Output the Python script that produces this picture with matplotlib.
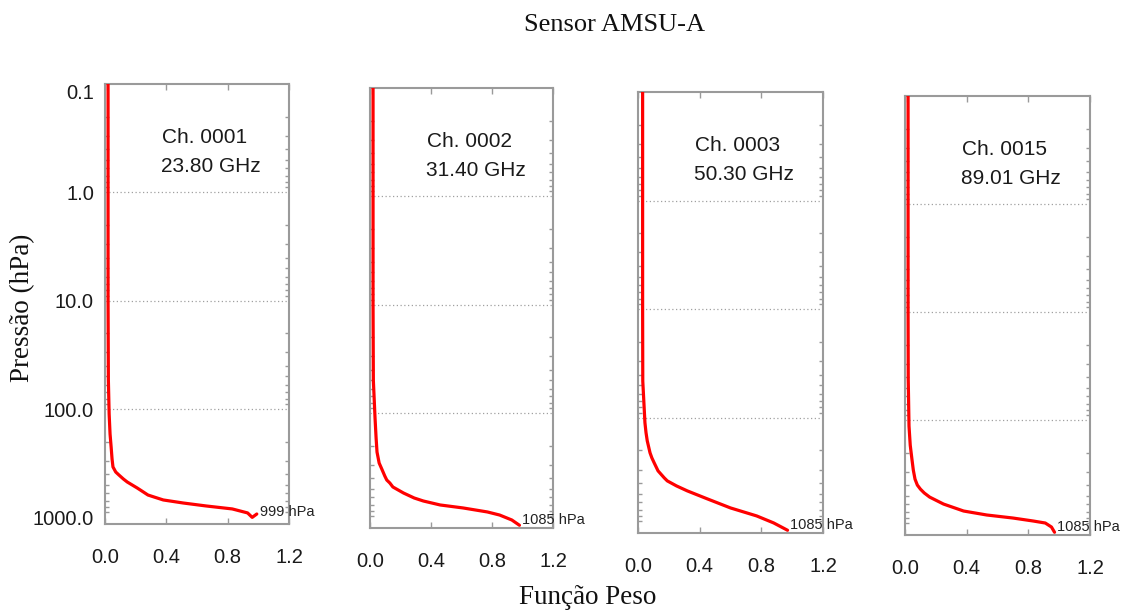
import matplotlib
matplotlib.use('Agg')
import matplotlib.pyplot as plt
from matplotlib.ticker import FixedLocator, FixedFormatter, LogLocator, NullFormatter

# Funções peso dos canais AMSU-A (peso normalizado x pressão em hPa)
canais = ['Ch. 0001', 'Ch. 0002', 'Ch. 0003', 'Ch. 0015']
frequencias = ['23.80 GHz', '31.40 GHz', '50.30 GHz', '89.01 GHz']
p_superficie = [999, 1085, 1085, 1085]

ch1_pres = [0.1, 1, 10, 54, 111, 170, 224, 289, 342, 381, 405, 442, 471, 535,
            570, 621, 648, 690, 736, 784, 835, 909, 999, 930]
ch1_peso = [0.02, 0.02, 0.02, 0.022, 0.027, 0.033, 0.04, 0.046, 0.052, 0.07, 0.09,
            0.12, 0.145, 0.21, 0.24, 0.28, 0.32, 0.38, 0.51, 0.66, 0.83, 0.93, 0.96, 0.99]

ch2_pres = [0.1, 1, 10, 50, 111, 170, 229, 289, 335, 381, 415, 442, 481, 547,
            608, 648, 705, 751, 818, 873, 970, 1085]
ch2_peso = [0.02, 0.02, 0.02, 0.022, 0.033, 0.04, 0.046, 0.06, 0.08, 0.097, 0.11,
            0.13, 0.15, 0.22, 0.29, 0.35, 0.46, 0.61, 0.77, 0.85, 0.93, 0.98]

ch3_pres = [0.1, 1, 10, 46, 111, 137, 163, 210, 234, 260, 308, 357, 381, 424,
            471, 558, 676, 801, 929, 1085]
ch3_peso = [0.03, 0.03, 0.03, 0.031, 0.045, 0.052, 0.06, 0.078, 0.09, 0.105, 0.13,
            0.17, 0.19, 0.25, 0.32, 0.45, 0.60, 0.77, 0.88, 0.97]

ch4_pres = [0.1, 1, 10, 42, 113, 170, 229, 289, 350, 397, 433, 470, 513, 595,
            690, 751, 801, 853, 891, 970, 1085]
ch4_peso = [0.02, 0.02, 0.02, 0.021, 0.026, 0.034, 0.045, 0.054, 0.065, 0.08, 0.10,
            0.125, 0.16, 0.25, 0.38, 0.53, 0.70, 0.83, 0.91, 0.95, 0.97]

pressoes = [ch1_pres, ch2_pres, ch3_pres, ch4_pres]
pesos = [ch1_peso, ch2_peso, ch3_peso, ch4_peso]

y_ticks = [0.1, 1, 10, 100, 1000]
y_labels = ['0.1', '1.0', '10.0', '100.0', '1000.0']
x_ticks = [0.0, 0.4, 0.8, 1.2]
x_labels = ['0.0', '0.4', '0.8', '1.2']

W, H = 1131, 616
# caixas dos painéis em pixels: esquerda, topo, direita, base
caixas = [(105, 84, 289, 524), (370, 88, 553, 528),
          (638, 92, 823, 533), (905, 96, 1090, 535)]

sans = 'Liberation Sans'
serif = 'Liberation Serif'
cinza = '#9a9a9a'

fig = plt.figure(figsize=(W / 100, H / 100), dpi=100)

for i, (l, t, r, b) in enumerate(caixas):
    ax = fig.add_axes([l / W, 1 - b / H, (r - l) / W, (b - t) / H])
    ax.set_yscale('log')
    ax.set_ylim(1150, 0.1)
    ax.set_xlim(0, 1.2)

    for g in [1, 10, 100]:
        ax.axhline(g, color='#a0a0a0', lw=0.9, ls=(0, (1, 2)), zorder=1)

    ax.plot(pesos[i], pressoes[i], color='#ff0000', lw=2.3,
            solid_capstyle='round', solid_joinstyle='round', zorder=3)

    ax.annotate(f'{p_superficie[i]} hPa', xy=(max(pesos[i]), p_superficie[i]),
                xytext=(2, 4), textcoords='offset points', ha='left', va='center',
                fontsize=10.5, family=sans, color='#222222')

    ax.text(0.31, 0.878, canais[i], transform=ax.transAxes, fontsize=15,
            family=sans, color='#1a1a1a', va='center', ha='left')
    ax.text(0.305, 0.812, frequencias[i], transform=ax.transAxes, fontsize=15,
            family=sans, color='#1a1a1a', va='center', ha='left')

    for s in ax.spines.values():
        s.set_color(cinza)
        s.set_linewidth(1.5)

    ax.xaxis.set_major_locator(FixedLocator(x_ticks))
    ax.xaxis.set_major_formatter(FixedFormatter(x_labels))
    ax.tick_params(axis='x', which='major', direction='in', top=True, bottom=True,
                   length=4, width=1, color=cinza, pad=17, labelsize=14.5,
                   labelcolor='#1a1a1a')

    ax.yaxis.set_major_locator(FixedLocator(y_ticks))
    ax.yaxis.set_minor_locator(LogLocator(base=10, subs=range(2, 10)))
    ax.yaxis.set_minor_formatter(NullFormatter())
    ax.tick_params(axis='y', which='both', direction='in', left=True, right=True,
                   color=cinza, width=1)
    ax.tick_params(axis='y', which='major', length=0, pad=8, labelsize=14.5,
                   labelcolor='#1a1a1a')
    ax.tick_params(axis='y', which='minor', length=3)
    if i == 0:
        ax.yaxis.set_major_formatter(FixedFormatter(y_labels))
        ylbls = ax.get_yticklabels()
        ylbls[0].set_va('top')
    else:
        ax.yaxis.set_major_formatter(NullFormatter())

    for lb in ax.get_xticklabels() + ax.get_yticklabels():
        lb.set_family(sans)

fig.text(615 / W, 1 - 25 / H, 'Sensor AMSU-A', ha='center', va='center',
         fontsize=19, family=serif, color='#111111')
fig.text(588 / W, 1 - 598 / H, 'Função Peso', ha='center', va='center',
         fontsize=19.5, family=serif, color='#111111')
fig.text(23 / W, 1 - 308 / H, 'Pressão (hPa)', ha='center', va='center',
         rotation=90, fontsize=19.5, family=serif, color='#111111')

fig.savefig('out.png', dpi=100)
